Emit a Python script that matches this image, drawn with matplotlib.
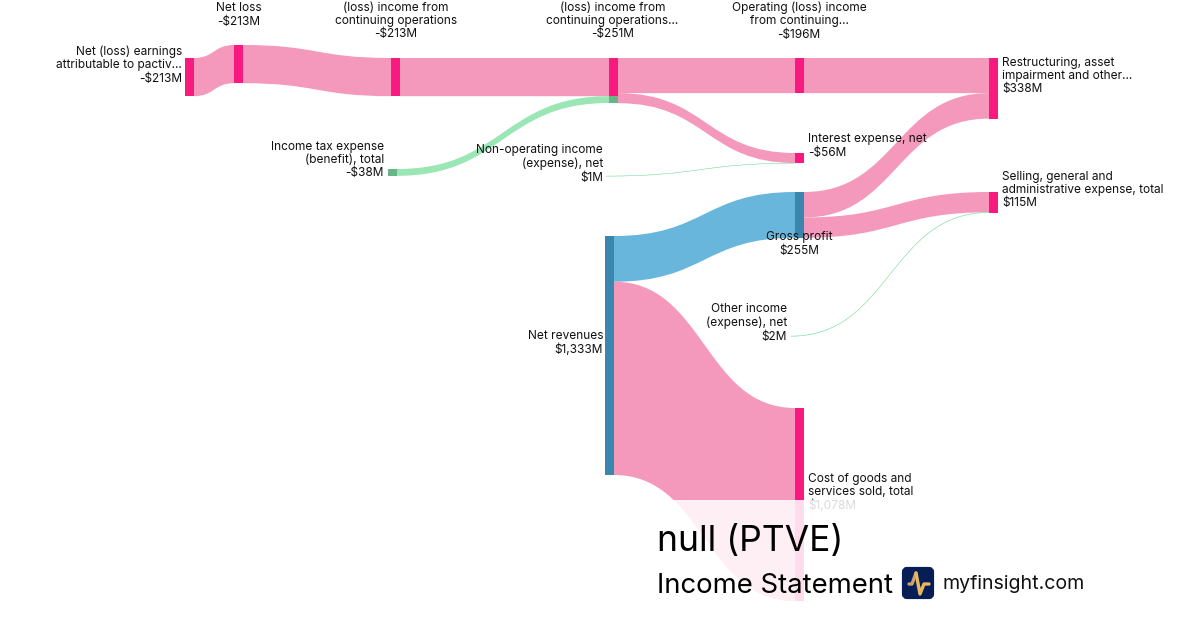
#!/usr/bin/env python3
"""Income statement sankey for PTVE, laid out in pixel coordinates."""
import matplotlib

matplotlib.use("Agg")
import matplotlib.pyplot as plt
from matplotlib.patches import FancyBboxPatch, PathPatch, Rectangle
from matplotlib.path import Path

plt.rcParams["font.family"] = ["Inter", "DejaVu Sans"]

# values in $M
node_names = [
    "Net (loss) earnings\nattributable to pactiv...",
    "Net loss",
    "(loss) income from\ncontinuing operations",
    "(loss) income from\ncontinuing operations...",
    "Operating (loss) income\nfrom continuing...",
    "Restructuring, asset\nimpairment and other...",
    "Interest expense, net",
    "Income tax expense\n(benefit), total",
    "Non-operating income\n(expense), net",
    "Selling, general and\nadministrative expense, total",
    "Gross profit",
    "Other income\n(expense), net",
    "Net revenues",
    "Cost of goods and\nservices sold, total",
]
node_values = ["-$213M", "-$213M", "-$213M", "-$251M", "-$196M", "$338M", "-$56M",
               "-$38M", "$1M", "$115M", "$255M", "$2M", "$1,333M", "$1,078M"]
node_sizes = [213, 213, 213, 252, 196, 338, 57, 38, 1, 115, 255, 2, 1333, 1078]
node_kinds = ["exp", "exp", "exp", "exp", "exp", "exp", "exp",
              "inc", "inc", "exp", "rev", "inc", "rev", "exp"]

link_src = [0, 1, 2, 7, 3, 3, 8, 12, 12, 4, 10, 10, 11]
link_dst = [1, 2, 3, 3, 4, 6, 6, 10, 13, 5, 5, 9, 9]
link_val = [213, 213, 213, 38, 196, 56, 1, 255, 1078, 196, 142, 113, 2]

# layout, pixels
node_left = [185, 234, 391, 609, 795, 989, 795, 388, 597, 989, 795, 782, 605, 795]
node_top = [58, 45, 58, 58, 58, 58, 153, 169, 176, 192, 192, 336, 236, 408]
label_x = [182, 238.5, 396, 612.5, 799, 1002, 808, 384, 603, 1002, 799, 787, 603, 808]
label_y = [65, 15, 21, 21, 21, 76, 146, 160, 164, 190, 244, 323, 343, 492.5]
label_ha = ["right", "center", "center", "center", "center", "left", "left",
            "right", "right", "left", "center", "right", "right", "left"]

NODE_W = 9
PX_PER_M = 239 / 1333
LINK = {"exp": "#f599bc", "inc": "#9ae6b4", "rev": "#69b6dc"}
NODE = {"exp": "#f91a7f", "inc": "#68b686", "rev": "#3a87ad"}

fig = plt.figure(figsize=(12, 6.3), dpi=100)
ax = fig.add_axes([0, 0, 1, 1])
ax.set_xlim(0, 1200)
ax.set_ylim(630, 0)
ax.axis("off")

src_used = [0.0] * len(node_names)
dst_used = [0.0] * len(node_names)

for s, d, v in zip(link_src, link_dst, link_val):
    h = v * PX_PER_M
    x0 = node_left[s] + NODE_W
    x1 = node_left[d]
    y0 = node_top[s] + src_used[s]
    y1 = node_top[d] + dst_used[d]
    src_used[s] += h
    dst_used[d] += h
    mid = (x0 + x1) / 2
    verts = [(x0, y0), (mid, y0), (mid, y1), (x1, y1), (x1, y1 + h),
             (mid, y1 + h), (mid, y0 + h), (x0, y0 + h), (x0, y0)]
    codes = [Path.MOVETO, Path.CURVE4, Path.CURVE4, Path.CURVE4, Path.LINETO,
             Path.CURVE4, Path.CURVE4, Path.CURVE4, Path.CLOSEPOLY]
    # green sources stay green, everything else takes the colour of its target
    kind = "inc" if node_kinds[s] == "inc" else node_kinds[d]
    ax.add_patch(PathPatch(Path(verts, codes), fc=LINK[kind], ec=LINK[kind],
                           lw=0.25 if v < 5 else 0, zorder=1))
    # the node under an incoming green link takes the green tint
    if node_kinds[s] == "inc" and v > 2:
        ax.add_patch(Rectangle((x1, y1), NODE_W, h, fc=NODE["inc"], lw=0, zorder=3))

for i, size in enumerate(node_sizes):
    if size < 5:
        continue
    kind = node_kinds[i]
    h = size * PX_PER_M
    if i == 3:
        h = 213 * PX_PER_M  # pink part only, the rest is drawn with the tax link
    ax.add_patch(Rectangle((node_left[i], node_top[i]), NODE_W, h, fc=NODE[kind], lw=0, zorder=2))

for name, val, x, y, ha in zip(node_names, node_values, label_x, label_y, label_ha):
    ax.text(x, y, f"{name}\n{val}", ha=ha, va="center", fontsize=8.55, color="#111111",
            linespacing=1.16, zorder=4)

# white fade behind the title block
ax.add_patch(Rectangle((0, 500), 1200, 130, fc="white", alpha=0.85, lw=0, zorder=5))

ax.text(657, 541, "null (PTVE)", fontsize=25.5, color="black", va="center", zorder=6)
ax.text(657, 586, "Income Statement", fontsize=19.8, color="black", va="center", zorder=6)
ax.text(942, 584, "myfinsight.com", fontsize=14.1, color="#111111", va="center", zorder=6)

# logo
ax.add_patch(FancyBboxPatch((904, 569), 28, 28, boxstyle="round,pad=0,rounding_size=3",
                            fc="#071d55", ec="#071d55", lw=3, zorder=6))
ax.plot([909, 912, 916], [584, 584, 573], color="#c9a36f", lw=2.4, solid_capstyle="round", zorder=7)
ax.plot([916, 920, 924, 929], [573, 594, 584, 584], color="#e8b860", lw=2.4,
        solid_capstyle="round", solid_joinstyle="round", zorder=7)

fig.savefig("out.png", dpi=100)
